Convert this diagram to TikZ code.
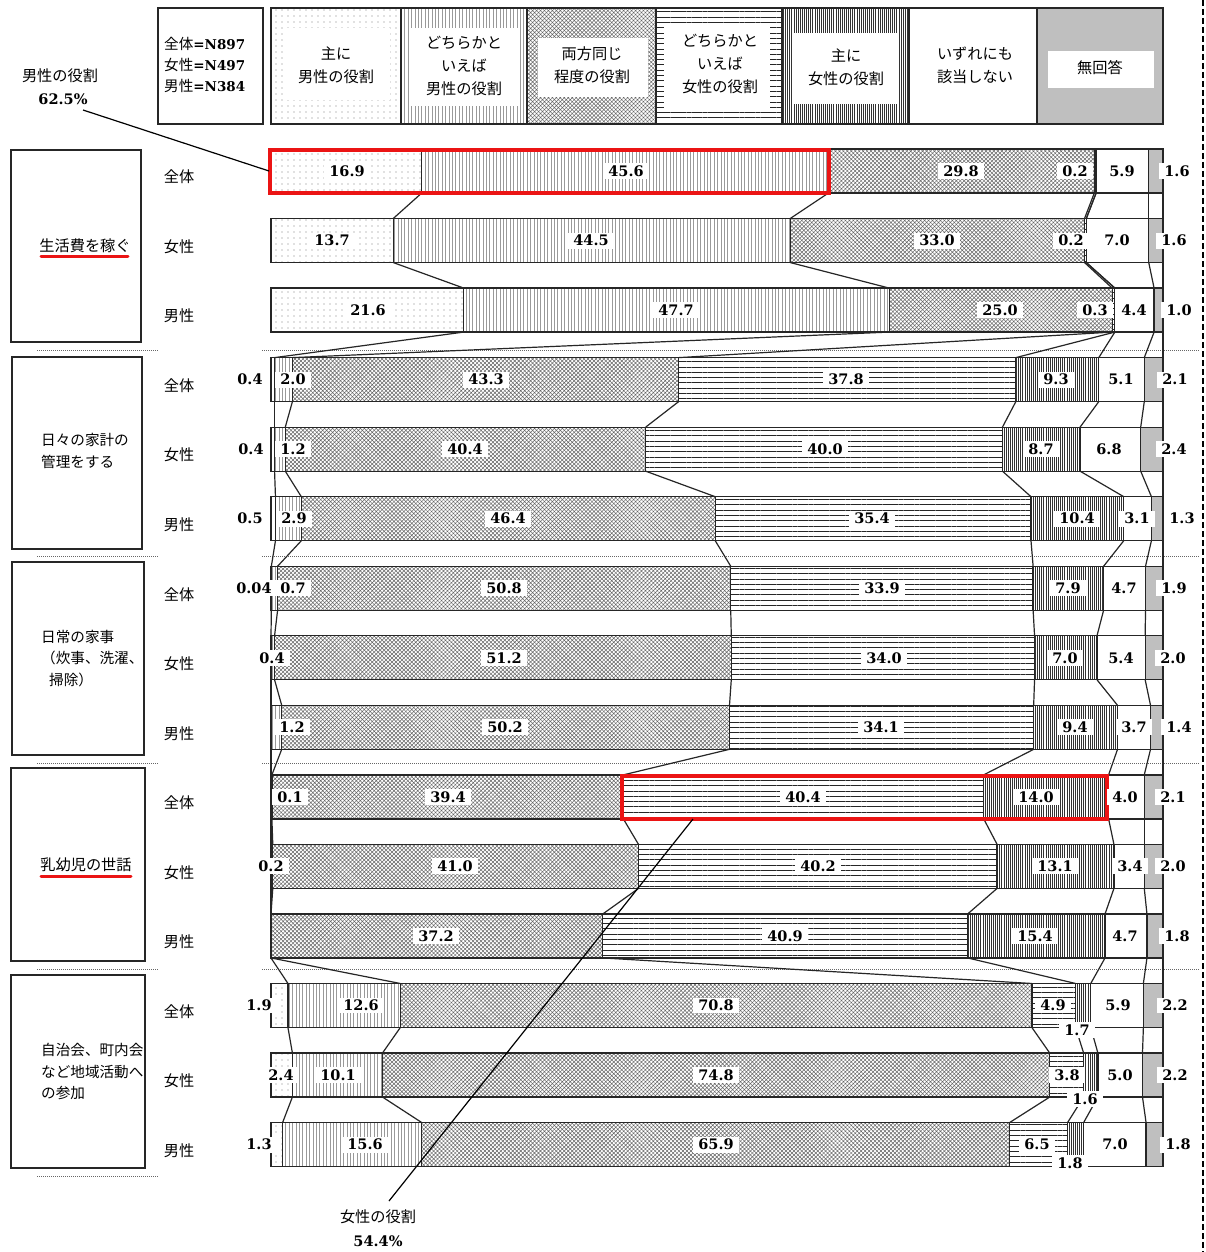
\documentclass[tikz,border=0pt]{standalone}
\usepackage{fontspec}
\setmainfont{Noto Sans CJK JP}
\newfontfamily\numf{DejaVu Serif}
\usetikzlibrary{patterns.meta}
\definecolor{nagray}{RGB}{191,191,191}
\definecolor{redline}{RGB}{235,20,20}
\tikzset{
 cat1/.style={pattern={Dots[distance=6pt,radius=0.55pt]},pattern color=black!50},
 cat2/.style={pattern={Lines[angle=90,distance=3.4pt,line width=0.6pt]},pattern color=black!40},
 cat3/.style={pattern={Hatch[angle=45,distance=2.8pt,line width=0.5pt]},pattern color=black!60},
 cat4/.style={pattern={Lines[angle=0,distance=5.3pt,line width=0.7pt]},pattern color=black!85},
 cat5/.style={pattern={Lines[angle=90,distance=2.1pt,line width=0.6pt]},pattern color=black!80},
 cat6/.style={fill=white},
 cat7/.style={fill=nagray},
 segborder/.style={draw=black!85,line width=1.3pt},
 boxline/.style={draw=black!85,line width=1.3pt},
 conn/.style={draw=black!85,line width=1.2pt},
 num/.style={fill=white,inner xsep=5pt,inner ysep=2.5pt,font=\numf\bfseries\fontsize{14.5}{16}\selectfont},
 jtext/.style={font=\fontsize{15.2}{23}\selectfont,align=center,inner sep=0pt},
 jleft/.style={font=\fontsize{14.6}{21.5}\selectfont,align=left,inner sep=0pt,anchor=west},
 redbox/.style={draw=redline,line width=3.5pt},
 redul/.style={draw=redline,line width=3pt,line cap=round},
 sepline/.style={draw=black!60,line width=0.7pt,dash pattern=on 1pt off 1pt},
 callout/.style={draw=black,line width=1.2pt},
}
\newcommand\drawbarrow[2]{%
  \pgfmathsetmacro\yc{171+69.54*(#1-1)}%
  \pgfmathsetmacro\yt{\yc-22}%
  \pgfmathsetmacro\yb{\yc+22}%
  \foreach \c [count=\k, remember=\c as \p (initially 0)] in {#2}{%
    \pgfmathsetmacro\xa{271+8.92*\p}%
    \pgfmathsetmacro\xb{271+8.92*\c}%
    \ifdim\c pt>\p pt\relax
      \edef\tmp{\noexpand\path[cat\k,segborder] (\xa,\yt) rectangle (\xb,\yb);}\tmp
    \fi
    \coordinate (t#1-\k) at (\xb,\yt);
    \coordinate (b#1-\k) at (\xb,\yb);
  }%
}
\begin{document}
\begin{tikzpicture}[x=1pt,y={(0pt,-1pt)}]
\useasboundingbox (0,0) rectangle (1206,1252);
\fill[white] (0,0) rectangle (1206,1252);

% ---- N box
\draw[boxline] (158,8) rectangle (263,124);
\node[jleft] (nall) at (164,44) {全体{\numf\bfseries\fontsize{13.5}{16}\selectfont =N897}};
\node[jleft] (nfem) at (164,65) {女性{\numf\bfseries\fontsize{13.5}{16}\selectfont =N497}};
\node[jleft] (nmal) at (164,86) {男性{\numf\bfseries\fontsize{13.5}{16}\selectfont =N384}};

% ---- legend
\path[cat1,segborder] (271,8) rectangle (401,124);
\fill[white] (284,28) rectangle (390,100);
\node[jtext] (lg1) at (336,65) {主に\\男性の役割};
\path[cat2,segborder] (401,8) rectangle (527,124);
\fill[white] (410,28) rectangle (519,106);
\node[jtext] (lg2) at (464,66) {どちらかと\\いえば\\男性の役割};
\path[cat3,segborder] (527,8) rectangle (656,124);
\fill[white] (538,38) rectangle (648,97);
\node[jtext] (lg3) at (592,65.5) {両方同じ\\程度の役割};
\path[cat4,segborder] (656,8) rectangle (782,124);
\fill[white] (664,27) rectangle (770,109);
\node[jtext] (lg4) at (720,64) {どちらかと\\いえば\\女性の役割};
\path[cat5,segborder] (782,8) rectangle (909,124);
\fill[white] (792,33) rectangle (898,104);
\node[jtext] (lg5) at (846,67) {主に\\女性の役割};
\path[cat6,segborder] (909,8) rectangle (1037,124);
\node[jtext] (lg6) at (975,65.5) {いずれにも\\該当しない};
\path[cat7,segborder] (1037,8) rectangle (1163,124);
\fill[white] (1048,51) rectangle (1154,88);
\node[jtext] (lg7) at (1100,68) {無回答};

% ---- left group boxes
\draw[boxline] (11,150) rectangle (141,342);
\node[jtext] (g1) at (85,246) {生活費を稼ぐ};
\draw[redul] (41,256) -- (128,256);
\draw[boxline] (12,357) rectangle (142,549);
\node[jleft] (g2) at (41,451) {日々の家計の\\管理をする};
\draw[boxline] (12,562) rectangle (144,755);
\node[jleft] (g3) at (41,658.5) {日常の家事\\（炊事、洗濯、\\\hspace{8pt}掃除）};
\draw[boxline] (11,768) rectangle (145,961);
\node[jtext] (g4) at (86,865) {乳幼児の世話};
\draw[redul] (41,876) -- (131,876);
\draw[boxline] (11,975) rectangle (145,1168);
\node[jleft] (g5) at (41,1071.5) {自治会、町内会\\など地域活動へ\\の参加};

% ---- separators
\foreach \yy in {350,556,763,969}{
  \draw[sepline] (37,\yy) -- (158,\yy);
  \draw[sepline] (262,\yy) -- (1200,\yy);
}
\draw[sepline] (37,1176) -- (158,1176);

% ---- row labels
\foreach \r in {1,...,15}{
  \pgfmathsetmacro\yy{177+69.54*(\r-1)}
  \pgfmathtruncatemacro\m{mod(\r-1,3)}
  \node[jtext] (rl\r) at (179,\yy) {\ifcase\m 全体\or 女性\or 男性\fi};
}

% ---- bars (cumulative %)
\drawbarrow{1}{16.9,62.5,92.3,92.5,92.5,98.4,100}
\drawbarrow{2}{13.7,58.2,91.2,91.4,91.4,98.4,100}
\drawbarrow{3}{21.6,69.3,94.3,94.6,94.6,99.0,100}
\drawbarrow{4}{0.4,2.4,45.7,83.5,92.8,97.9,100}
\drawbarrow{5}{0.4,1.6,42.0,82.0,90.7,97.5,100}
\drawbarrow{6}{0.5,3.4,49.8,85.2,95.6,98.7,100}
\drawbarrow{7}{0.04,0.74,51.54,85.44,93.34,98.04,100}
\drawbarrow{8}{0,0.4,51.6,85.6,92.6,98.0,100}
\drawbarrow{9}{0,1.2,51.4,85.5,94.9,98.6,100}
\drawbarrow{10}{0,0.1,39.5,79.9,93.9,97.9,100}
\drawbarrow{11}{0,0.2,41.2,81.4,94.5,97.9,100}
\drawbarrow{12}{0,0,37.2,78.1,93.5,98.2,100}
\drawbarrow{13}{1.9,14.5,85.3,90.2,91.9,97.8,100}
\drawbarrow{14}{2.4,12.5,87.3,91.1,92.7,97.7,100}
\drawbarrow{15}{1.3,16.9,82.8,89.3,91.1,98.1,100}

% ---- connectors between consecutive bars
\foreach \r in {1,...,14}{
  \pgfmathtruncatemacro\rn{\r+1}
  \foreach \k in {1,...,7}{\draw[conn] (b\r-\k) -- (t\rn-\k);}
}

% ---- red highlight boxes
\draw[redbox] (270,150) rectangle (829,193);
\draw[redbox] (622,776) rectangle (1107,819);
\coordinate (r1w) at (269,171);
\coordinate (r2b) at (693,819);

% ---- value labels
\foreach \r/\x/\lab [count=\n] in {
 1/347/16.9, 1/626/45.6, 1/961/29.8, 1/1075/0.2, 1/1122/5.9, 1/1177/1.6,
 2/332/13.7, 2/591/44.5, 2/937/33.0, 2/1071/0.2, 2/1117/7.0, 2/1174/1.6,
 3/368/21.6, 3/676/47.7, 3/1000/25.0, 3/1095/0.3, 3/1134/4.4, 3/1179/1.0,
 4/250/0.4, 4/293/2.0, 4/486/43.3, 4/846/37.8, 4/1056/9.3, 4/1121/5.1, 4/1175/2.1,
 5/251/0.4, 5/293/1.2, 5/465/40.4, 5/825/40.0, 5/1041/8.7, 5/1109/6.8, 5/1174/2.4,
 6/250/0.5, 6/294/2.9, 6/508/46.4, 6/872/35.4, 6/1077/10.4, 6/1137/3.1, 6/1182/1.3,
 7/254/0.04, 7/293/0.7, 7/504/50.8, 7/882/33.9, 7/1068/7.9, 7/1124/4.7, 7/1174/1.9,
 8/272/0.4, 8/504/51.2, 8/884/34.0, 8/1065/7.0, 8/1121/5.4, 8/1173/2.0,
 9/292/1.2, 9/505/50.2, 9/881/34.1, 9/1075/9.4, 9/1134/3.7, 9/1179/1.4,
 10/290/0.1, 10/448/39.4, 10/803/40.4, 10/1036/14.0, 10/1125/4.0, 10/1173/2.1,
 11/271/0.2, 11/455/41.0, 11/818/40.2, 11/1055/13.1, 11/1130/3.4, 11/1173/2.0,
 12/436/37.2, 12/785/40.9, 12/1035/15.4, 12/1125/4.7, 12/1177/1.8,
 13/259/1.9, 13/361/12.6, 13/716/70.8, 13/1053/4.9, 13/1118/5.9, 13/1175/2.2,
 14/281/2.4, 14/338/10.1, 14/716/74.8, 14/1067/3.8, 14/1120/5.0, 14/1175/2.2,
 15/259/1.3, 15/365/15.6, 15/716/65.9, 15/1037/6.5, 15/1115/7.0, 15/1178/1.8}{
  \pgfmathsetmacro\yy{171+69.54*(\r-1)}
  \node[num] (v\n) at (\x,\yy) {\lab};
}
\node[num] (s1) at (1077,1030) {1.7};
\node[num] (s2) at (1085,1099) {1.6};
\node[num] (s3) at (1070,1163) {1.8};

% ---- callouts
\node[jtext] (mrole) at (60,76) {男性の役割};
\node[num,fill=none] (mpct) at (63,99) {62.5\%};
\coordinate (mstart) at (83,110);
\draw[callout] (mstart) -- (r1w);
\node[jtext] (frole) at (378,1217) {女性の役割};
\node[num,fill=none] (fpct) at (378,1241) {54.4\%};
\coordinate (fstart) at (389,1201);
\draw[callout] (fstart) -- (r2b);

% ---- right dashed border
\draw[line width=2.5pt,dash pattern=on 6pt off 3pt] (1203,0) -- (1203,1252);
\end{tikzpicture}
\end{document}
